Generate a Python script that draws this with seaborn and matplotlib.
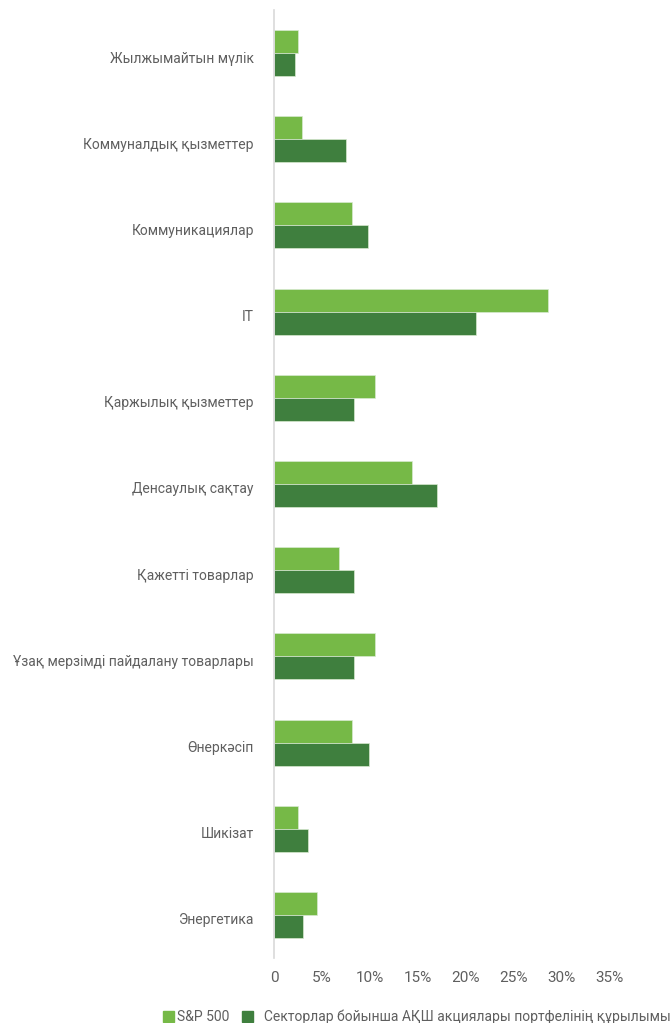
#!/usr/bin/env python3

"""Horizontal grouped bar chart: S&P 500 vs portfolio sector weights."""

import seaborn as sns
import pandas as pd
import matplotlib.pyplot as plt
from matplotlib.font_manager import fontManager
from matplotlib.transforms import ScaledTranslation

# DATA
sectors = ["Жылжымайтын мүлік", "Коммуналдық қызметтер", "Коммуникациялар", "IT",
           "Қаржылық қызметтер", "Денсаулық сақтау", "Қажетті товарлар",
           "Ұзақ мерзімді пайдалану товарлары", "Өнеркәсіп", "Шикізат", "Энергетика"]
sp500 = [2.5, 2.9, 8.1, 28.6, 10.5, 14.4, 6.8, 10.5, 8.2, 2.5, 4.5]
portfolio = [2.2, 7.5, 9.8, 21.1, 8.4, 17.0, 8.4, 8.4, 9.9, 3.6, 3.0]
series_names = ["S&P 500", "Секторлар бойынша АҚШ акциялары портфелінің құрылымы"]
x_ticks = [0, 5, 10, 15, 20, 25, 30, 35]
x_ticklabels = ["0", "5%", "10%", "15%", "20%", "25%", "30%", "35%"]

colors = ["#76b947", "#3f7f3e"]
text_gray = "#5f5f5f"

sns.set_style("white")
names = {f.name for f in fontManager.ttflist}
narrow = "Liberation Sans Narrow" if "Liberation Sans Narrow" in names else "Roboto"
plt.rcParams["font.family"] = ["Roboto", "DejaVu Sans"]

df = pd.DataFrame({
    "sector": sectors * 2,
    "value": sp500 + portfolio,
    "series": [series_names[0]] * len(sectors) + [series_names[1]] * len(sectors),
})

fig = plt.figure(figsize=(6.7, 10.23), dpi=100)
ax = fig.add_axes([274 / 670, 1 - 958 / 1023, 335 / 670, 948 / 1023])

sns.barplot(data=df, y="sector", x="value", hue="series", order=sectors,
            hue_order=series_names, palette=colors, saturation=1, width=0.534, orient="h",
            edgecolor="#d8ead0", linewidth=0.5, ax=ax, legend=False)

ax.set_xlim(0, 35)
ax.set_ylim(10.5, -0.5)
ax.set_xticks(x_ticks)
ax.set_xticklabels(x_ticklabels, fontsize=11, color=text_gray, family=[narrow, "DejaVu Sans"])
ax.tick_params(axis="y", labelsize=10, labelcolor=text_gray, length=0, pad=14.5)
ax.tick_params(axis="x", length=0, pad=9)
ax.set_xlabel("")
ax.set_ylabel("")
for lbl in ax.get_yticklabels():
    lbl.set_transform(lbl.get_transform() + ScaledTranslation(0, -4 / 100, fig.dpi_scale_trans))
for s in ["top", "right", "bottom"]:
    ax.spines[s].set_visible(False)
ax.spines["left"].set_color("#d9d9d9")
ax.spines["left"].set_linewidth(1.2)

# legend
handles = [plt.Rectangle((0, 0), 1, 1, color=c) for c in colors]
labels = [series_names[0], "  " + series_names[1]]
fig.legend(handles, labels, loc="center left", bbox_to_anchor=(157 / 670, 1 - 1017 / 1023),
           ncol=2, frameon=False, fontsize=10, labelcolor=text_gray, handlelength=0.8,
           handleheight=0.8, handletextpad=0.25, columnspacing=0.9, borderaxespad=0)

fig.savefig("out.png", dpi=100)
